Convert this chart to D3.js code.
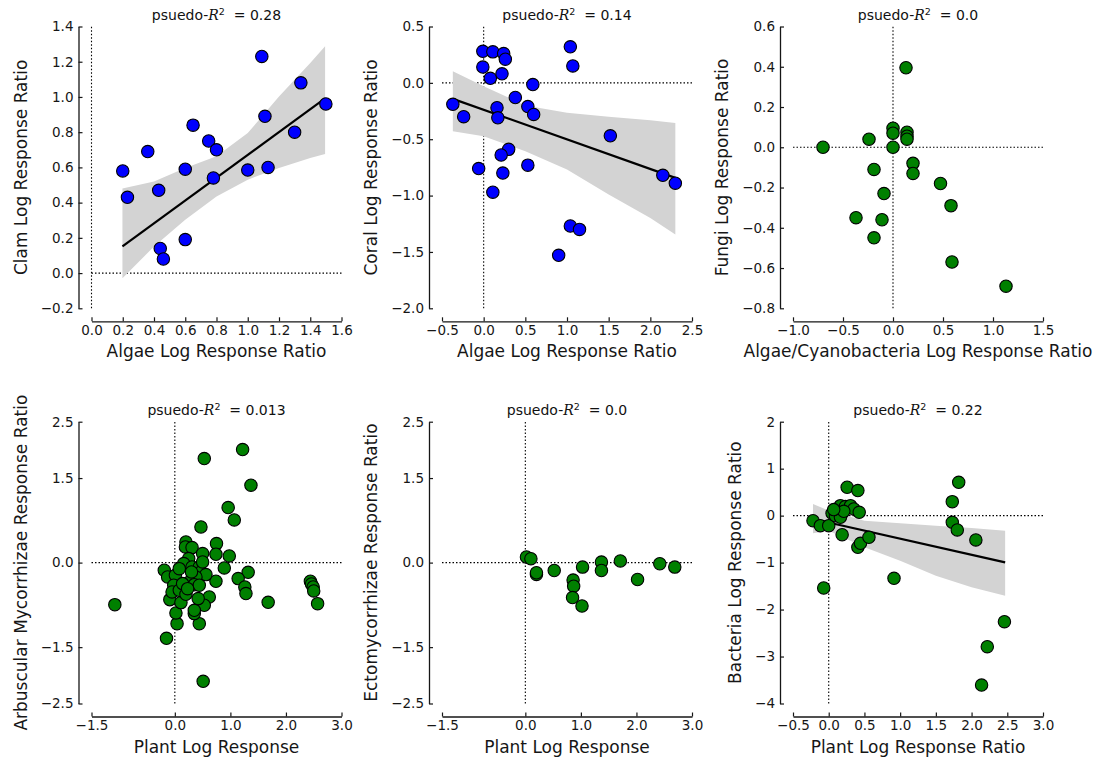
<!DOCTYPE html>
<html><head><meta charset="utf-8">
<script src="https://cdn.jsdelivr.net/npm/d3@7"></script>
<style>body{margin:0;background:#fff} svg text{font-family:"DejaVu Sans",sans-serif}</style>
</head><body>
<svg id="chart" width="1115" height="759"></svg>
<script>
// ---------- DATA ----------
// Panel 1: Clam vs Algae
const clamX = [0.20,0.23,0.36,0.43,0.44,0.46,0.60,0.60,0.65,0.75,0.80,0.78,1.00,1.09,1.11,1.13,1.30,1.34,1.50];
const clamY = [0.58,0.43,0.69,0.47,0.14,0.08,0.59,0.19,0.84,0.75,0.70,0.54,0.585,1.23,0.89,0.60,0.80,1.08,0.96];
const clamFitX = [0.198, 1.495];
const clamFitY = [0.151, 0.992];
const clamBandX  = [0.198, 0.4, 0.6, 0.8, 1.0, 1.2, 1.4, 1.495];
const clamBandLo = [-0.03, 0.151, 0.303, 0.435, 0.53, 0.597, 0.653, 0.676];
const clamBandHi = [0.48, 0.52, 0.597, 0.663, 0.795, 1.003, 1.193, 1.288];

// Panel 2: Coral vs Algae
const coralX = [-0.37,-0.24,-0.01,0.11,0.24,0.26,-0.01,0.08,0.22,0.59,0.38,0.16,0.17,0.53,0.60,0.30,0.21,-0.06,0.23,0.53,0.11,1.04,1.07,1.52,1.04,1.15,0.90,2.15,2.30];
const coralY = [-0.19,-0.30,0.28,0.275,0.26,0.21,0.14,0.04,0.08,-0.015,-0.13,-0.22,-0.31,-0.21,-0.28,-0.59,-0.64,-0.76,-0.80,-0.73,-0.97,0.32,0.15,-0.47,-1.27,-1.30,-1.53,-0.82,-0.89];
const coralFitX = [-0.37, 2.30];
const coralFitY = [-0.142, -0.843];
const coralBandX  = [-0.37, 0.0, 0.5, 1.0, 1.5, 2.0, 2.30];
const coralBandLo = [-0.429, -0.473, -0.607, -0.769, -0.991, -1.198, -1.346];
const coralBandHi = [0.104, -0.03, -0.2, -0.266, -0.30, -0.331, -0.355];

// Panel 3: Fungi vs Algae/Cyanobacteria
const fungiX = [-0.70,-0.24,-0.19,-0.09,-0.37,-0.11,-0.19,0.0,0.0,0.0,0.13,0.14,0.14,0.14,0.20,0.20,0.475,0.58,0.59,1.13];
const fungiY = [0.0,0.04,-0.11,-0.23,-0.35,-0.36,-0.45,0.095,0.07,0.0,0.395,0.075,0.055,0.04,-0.08,-0.13,-0.18,-0.29,-0.57,-0.69];

// Panel 4: Arbuscular Mycorrhizae vs Plant
const amX = [-1.08,0.53,1.22,1.37,0.96,1.07,0.47,-0.15,0.51,0.04,1.68,2.44,2.46,2.49,2.50,2.57,1.32,1.14,1.26,1.28,0.89,0.98,0.75,0.74,0.74,0.62,0.53,0.44,0.35,0.35,0.42,0.02,-0.09,-0.19,-0.13,0.01,-0.02,-0.05,0.08,0.11,0.20,0.20,0.19,0.31,0.50,0.25,0.16,0.31,0.44,0.47,0.56,0.38,0.26,0.35,0.44,0.14,0.23,0.30,0.08,0.50];
const amY = [-0.746,1.846,2.006,1.373,0.976,0.757,0.633,-1.343,-2.107,-1.083,-0.704,-0.331,-0.379,-0.432,-0.503,-0.728,-0.172,-0.284,-0.432,-0.550,-0.095,0.118,0.337,0.148,-0.331,-0.609,-0.757,-1.083,-0.905,-0.846,-0.639,-0.893,-0.657,-0.136,-0.254,-0.225,-0.402,-0.521,-0.491,-0.710,-0.562,0.367,0.278,0.266,0.160,0.071,-0.018,-0.077,-0.077,-0.166,-0.213,-0.254,-0.343,-0.391,-0.402,-0.373,-0.462,-0.166,-0.107,0.012];

// Panel 5: Ectomycorrhizae vs Plant
const ecmX = [0.02,0.10,0.20,0.20,0.52,0.86,0.87,0.85,1.02,1.03,1.37,1.37,1.71,2.02,2.42,2.69];
const ecmY = [0.10,0.07,-0.21,-0.18,-0.14,-0.31,-0.42,-0.62,-0.77,-0.08,0.01,-0.14,0.03,-0.30,-0.02,-0.08];

// Panel 6: Bacteria vs Plant
const bacX = [-0.22,-0.117,0.0,-0.07,0.258,0.408,0.047,0.117,0.164,0.234,0.305,0.352,0.188,0.094,0.164,0.211,0.427,0.188,0.408,0.445,0.563,0.914,1.73,1.82,1.73,1.80,2.06,2.46,2.22,2.14,0.07];
const bacY = [-0.107,-0.213,-0.213,-1.541,0.604,0.533,0.05,0.142,0.213,0.192,0.213,0.142,0.05,0.0,-0.036,0.092,0.071,-0.405,-0.675,-0.589,-0.462,-1.335,0.298,0.710,-0.142,-0.305,-0.518,-2.258,-2.791,-3.608,0.128];
const bacFitX = [-0.22, 2.47];
const bacFitY = [-0.071, -0.994];
const bacBandX  = [-0.22, 0.0, 0.5, 1.0, 1.5, 2.0, 2.47];
const bacBandLo = [-0.376, -0.32, -0.675, -0.959, -1.278, -1.527, -1.705];
const bacBandHi = [0.249, 0.107, -0.107, -0.163, -0.213, -0.263, -0.32];

// Titles / labels / ticks
const titles = ["0.28","0.14","0.0","0.013","0.0","0.22"];
const xLabels = ["Algae Log Response Ratio","Algae Log Response Ratio","Algae/Cyanobacteria Log Response Ratio","Plant Log Response","Plant Log Response","Plant Log Response Ratio"];
const yLabels = ["Clam Log Response Ratio","Coral Log Response Ratio","Fungi Log Response Ratio","Arbuscular Mycorrhizae Response Ratio","Ectomycorrhizae Response Ratio","Bacteria Log Response Ratio"];
const xTicks = [
  [0,0.2,0.4,0.6,0.8,1.0,1.2,1.4,1.6],
  [-0.5,0,0.5,1.0,1.5,2.0,2.5],
  [-1.0,-0.5,0,0.5,1.0,1.5],
  [-1.5,0,1.0,2.0,3.0],
  [-1.5,0,1.0,2.0,3.0],
  [-0.5,0,0.5,1.0,1.5,2.0,2.5,3.0]
];
const yTicks = [
  [-0.2,0,0.2,0.4,0.6,0.8,1.0,1.2,1.4],
  [-2.0,-1.5,-1.0,-0.5,0,0.5],
  [-0.8,-0.6,-0.4,-0.2,0,0.2,0.4,0.6],
  [-2.5,-1.5,0,1.5,2.5],
  [-2.5,-1.5,0,1.5,2.5],
  [-4,-3,-2,-1,0,1,2]
];

// ---------- LAYOUT ----------
const svg = d3.select("#chart");
const W = 250, H = 281.8;
const colLeft = [91.5, 442, 793];
const rowTop = [26.5, 421.7];
const OFF = 13;
const ink = "#161616";

const panels = [
  {x: clamX, y: clamY, col: "#0000ff", fit: [clamFitX, clamFitY], band: [clamBandX, clamBandLo, clamBandHi], xd:[0,1.6], yd:[-0.2,1.4], yfmt: d3.format(".1f")},
  {x: coralX, y: coralY, col: "#0000ff", fit: [coralFitX, coralFitY], band: [coralBandX, coralBandLo, coralBandHi], xd:[-0.5,2.5], yd:[-2.0,0.5], yfmt: d3.format(".1f")},
  {x: fungiX, y: fungiY, col: "#008000", fit: null, band: null, xd:[-1.0,1.5], yd:[-0.8,0.6], yfmt: d3.format(".1f")},
  {x: amX, y: amY, col: "#008000", fit: null, band: null, xd:[-1.5,3.0], yd:[-2.5,2.5], yfmt: d3.format(".1f")},
  {x: ecmX, y: ecmY, col: "#008000", fit: null, band: null, xd:[-1.5,3.0], yd:[-2.5,2.5], yfmt: d3.format(".1f")},
  {x: bacX, y: bacY, col: "#008000", fit: [bacFitX, bacFitY], band: [bacBandX, bacBandLo, bacBandHi], xd:[-0.5,3.0], yd:[-4,2], yfmt: d3.format("d")}
];

panels.forEach((p, i) => {
  const left = colLeft[i % 3], top = rowTop[Math.floor(i / 3)];
  const x = d3.scaleLinear().domain(p.xd).range([left, left + W]);
  const y = d3.scaleLinear().domain(p.yd).range([top + H, top]);
  const g = svg.append("g");

  // reference dotted lines
  g.append("line").attr("x1", x(0)).attr("x2", x(0)).attr("y1", y.range()[0]).attr("y2", y.range()[1])
    .attr("stroke", "#000").attr("stroke-width", 1.1).attr("stroke-dasharray", "1.5,2");
  g.append("line").attr("x1", x.range()[0]).attr("x2", x.range()[1]).attr("y1", y(0)).attr("y2", y(0))
    .attr("stroke", "#000").attr("stroke-width", 1.1).attr("stroke-dasharray", "1.5,2");

  // confidence band + fit line
  if (p.band) {
    const bd = p.band[0].map((v, k) => ({x: v, lo: p.band[1][k], hi: p.band[2][k]}));
    g.append("path").datum(bd)
      .attr("d", d3.area().x(d => x(d.x)).y0(d => y(d.lo)).y1(d => y(d.hi)))
      .attr("fill", "#d3d3d3");
  }
  if (p.fit) {
    const fd = p.fit[0].map((v, k) => ({x: v, y: p.fit[1][k]}));
    g.append("path").datum(fd)
      .attr("d", d3.line().x(d => x(d.x)).y(d => y(d.y)))
      .attr("fill", "none").attr("stroke", "#000").attr("stroke-width", 2.2);
  }

  // points
  g.selectAll("circle.pt").data(p.x.map((v, k) => ({x: v, y: p.y[k]}))).enter()
    .append("circle").attr("class", "pt")
    .attr("cx", d => x(d.x)).attr("cy", d => y(d.y)).attr("r", 6.2)
    .attr("fill", p.col).attr("stroke", "#000").attr("stroke-width", 1.1);

  // axes
  const yAx = g.append("g").attr("transform", `translate(${left - OFF},0)`)
    .call(d3.axisLeft(y).tickValues(yTicks[i]).tickFormat(p.yfmt).tickSizeInner(-4).tickSizeOuter(0).tickPadding(5));
  const xAx = g.append("g").attr("transform", `translate(0,${top + H + OFF})`)
    .call(d3.axisBottom(x).tickValues(xTicks[i]).tickFormat(d3.format(".1f")).tickSizeInner(-4).tickSizeOuter(0).tickPadding(4));
  [yAx, xAx].forEach(a => {
    a.attr("font-family", null).attr("font-size", null);
    a.select(".domain").attr("stroke", ink).attr("stroke-width", 1.3);
    a.selectAll(".tick line").attr("stroke", ink).attr("stroke-width", 1.2);
    a.selectAll(".tick text").attr("fill", ink).style("font-size", "13.5px");
  });

  // axis labels
  const bb = yAx.node().getBBox();
  g.append("text")
    .attr("transform", `translate(${left - OFF + bb.x - 14},${top + H / 2}) rotate(-90)`)
    .attr("text-anchor", "middle").style("font-size", "17px").attr("fill", ink)
    .text(yLabels[i]);
  g.append("text")
    .attr("x", left + W / 2).attr("y", top + H + OFF + 36)
    .attr("text-anchor", "middle").style("font-size", "17px").attr("fill", ink)
    .text(xLabels[i]);

  // title
  const t = g.append("text").attr("x", left + W / 2).attr("y", top - 7)
    .attr("text-anchor", "middle").style("font-size", "14px").attr("fill", "#111")
    .attr("xml:space", "preserve");
  t.append("tspan").text("psuedo-");
  t.append("tspan").style("font-style", "italic").style("font-family", "'DejaVu Serif',serif").text("R");
  t.append("tspan").attr("dy", -5).style("font-size", "9.5px").text("2");
  t.append("tspan").attr("dy", 5).text("  = " + titles[i]);
});
</script>
</body></html>
